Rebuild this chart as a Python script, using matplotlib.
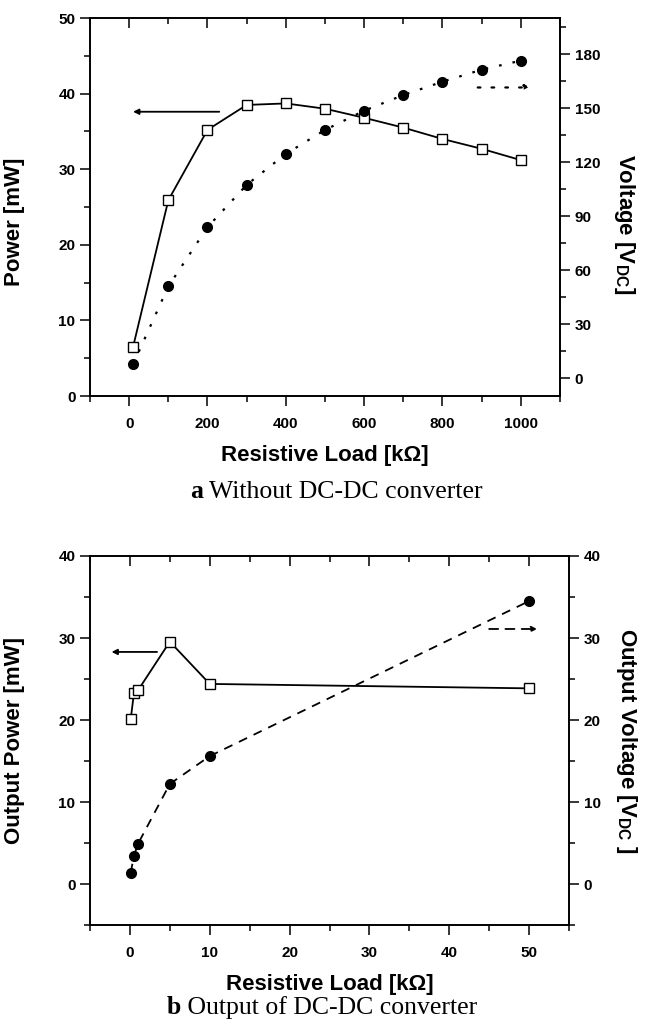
import numpy as np
import matplotlib
matplotlib.use("Agg")
import matplotlib.pyplot as plt
from matplotlib.ticker import MultipleLocator

plt.rcParams['font.family'] = ['Liberation Sans', 'DejaVu Sans']
plt.rcParams['font.weight'] = 'bold'
plt.rcParams['axes.labelweight'] = 'bold'
plt.rcParams['mathtext.fontset'] = 'custom'
plt.rcParams['mathtext.rm'] = 'Liberation Sans:bold'
plt.rcParams['mathtext.it'] = 'Liberation Sans:bold'
plt.rcParams['mathtext.bf'] = 'Liberation Sans:bold'

# (a) without converter
load_a = [10, 100, 200, 300, 400, 500, 600, 700, 800, 900, 1000]
power_a = [6.5, 25.9, 35.2, 38.5, 38.7, 38.0, 36.8, 35.5, 34.0, 32.7, 31.2]
volt_a = [7.6, 50.9, 83.8, 107.3, 124.5, 137.8, 148.5, 157.2, 164.6, 171.3, 176.3]

# (b) output of converter
load_b = [0.1, 0.5, 1, 5, 10, 50]
power_b = [20.1, 23.25, 23.6, 29.55, 24.4, 23.86]
volt_b = [1.38, 3.41, 4.88, 12.2, 15.6, 34.5]

fig = plt.figure(figsize=(6.49, 10.26), dpi=100)


def style(ax, ax2):
    for a in (ax, ax2):
        for s in a.spines.values():
            s.set_linewidth(1.2)
    ax.tick_params(axis='both', which='both', direction='out', width=1.1, labelsize=11)
    ax.tick_params(which='major', length=7)
    ax.tick_params(which='minor', length=4)
    ax.tick_params(axis='x', which='both', top=True, pad=8)
    ax2.tick_params(axis='y', which='both', direction='out', width=1.1, labelsize=11)
    ax2.tick_params(which='major', length=7)
    ax2.tick_params(which='minor', length=4)
    # top ticks pointing inward
    for t in ax.xaxis.get_major_ticks() + ax.xaxis.get_minor_ticks():
        t.tick2line.set_marker(3)
    ax.tick_params(axis='x', which='both', labeltop=False)


def caption(letter, rest, cx, y):
    t1 = fig.text(0, y, letter, family='Liberation Serif', weight='bold',
                  fontsize=18.5, va='center', ha='left')
    t2 = fig.text(0, y, ' ' + rest, family='Liberation Serif', weight='normal',
                  fontsize=18.5, va='center', ha='left')
    fig.canvas.draw()
    r = fig.canvas.get_renderer()
    w1 = t1.get_window_extent(r).width / fig.bbox.width
    w2 = t2.get_window_extent(r).width / fig.bbox.width
    x0 = cx - (w1 + w2) / 2
    t1.set_x(x0)
    t2.set_x(x0 + w1)


# ---- panel a
ax = fig.add_axes([90 / 649, 1 - 396 / 1026, 470 / 649, 378 / 1026])
ax2 = ax.twinx()
ax.plot(load_a, power_a, '-', color='black', lw=1.3, marker='s', ms=6.5,
        mfc='white', mec='black', mew=1.0, zorder=3)
ax2.plot(load_a, volt_a, linestyle=(0, (1.2, 5)), color='black', lw=1.6,
         marker='o', ms=7, mfc='black', mec='black')
ax.set_xlim(-100, 1100)
ax.set_ylim(0, 50)
ax2.set_ylim(-10, 200)
ax.xaxis.set_major_locator(MultipleLocator(200))
ax.xaxis.set_minor_locator(MultipleLocator(100))
ax.yaxis.set_major_locator(MultipleLocator(10))
ax.yaxis.set_minor_locator(MultipleLocator(5))
ax2.yaxis.set_major_locator(MultipleLocator(30))
ax2.yaxis.set_minor_locator(MultipleLocator(15))
style(ax, ax2)
ax.set_xlabel('Resistive Load [k\u03a9]', fontsize=16, labelpad=10)
ax.set_ylabel('Power [mW]', fontsize=16)
ax.yaxis.set_label_coords(-0.138, 0.46)
ax2.set_ylabel(r'Voltage [V$_{\mathrm{DC}}$]', fontsize=16, rotation=270,
               va='center')
ax2.yaxis.set_label_coords(1.138, 0.455)
ax.annotate('', xy=(10, 37.6), xytext=(230, 37.6),
            arrowprops=dict(arrowstyle='-|>', color='black', lw=1.3,
                            mutation_scale=8, shrinkA=0, shrinkB=0))
ax2.annotate('', xy=(1025, 161.4), xytext=(890, 161.4),
             arrowprops=dict(arrowstyle='-|>', color='black', lw=1.6,
                             linestyle=(0, (1.2, 5)), mutation_scale=8,
                             shrinkA=0, shrinkB=0))

# ---- panel b
bx = fig.add_axes([90 / 649, 1 - 925 / 1026, 479 / 649, 369 / 1026])
bx2 = bx.twinx()
bx.plot(load_b, power_b, '-', color='black', lw=1.3, marker='s', ms=6.5,
        mfc='white', mec='black', mew=1.0, zorder=3)
bx2.plot(load_b, volt_b, linestyle=(0, (5, 4)), color='black', lw=1.3,
         marker='o', ms=7, mfc='black', mec='black')
bx.set_xlim(-5, 55)
bx.set_ylim(-5, 40)
bx2.set_ylim(-5, 40)
bx.xaxis.set_major_locator(MultipleLocator(10))
bx.xaxis.set_minor_locator(MultipleLocator(5))
bx.yaxis.set_major_locator(MultipleLocator(10))
bx.yaxis.set_minor_locator(MultipleLocator(5))
bx2.yaxis.set_major_locator(MultipleLocator(10))
bx2.yaxis.set_minor_locator(MultipleLocator(5))
style(bx, bx2)
bx.set_xlabel('Resistive Load [k\u03a9]', fontsize=16, labelpad=10)
bx.set_ylabel('Output Power [mW]', fontsize=16)
bx.yaxis.set_label_coords(-0.136, 0.5)
bx2.set_ylabel(r'Output Voltage [V$_{\mathrm{DC}}$ ]', fontsize=16, rotation=270,
               va='center')
bx2.yaxis.set_label_coords(1.121, 0.5)
bx.annotate('', xy=(-2.3, 28.3), xytext=(3.4, 28.3),
            arrowprops=dict(arrowstyle='-|>', color='black', lw=1.3,
                            mutation_scale=8, shrinkA=0, shrinkB=0))
bx2.annotate('', xy=(51, 31.1), xytext=(45, 31.1),
             arrowprops=dict(arrowstyle='-|>', color='black', lw=1.3,
                             linestyle=(0, (5, 4)), mutation_scale=8,
                             shrinkA=0, shrinkB=0))

caption('a', 'Without DC-DC converter', 336 / 649, 1 - 492 / 1026)
caption('b', 'Output of DC-DC converter', 322 / 649, 1 - 1008 / 1026)

fig.savefig('out.png', dpi=100)
